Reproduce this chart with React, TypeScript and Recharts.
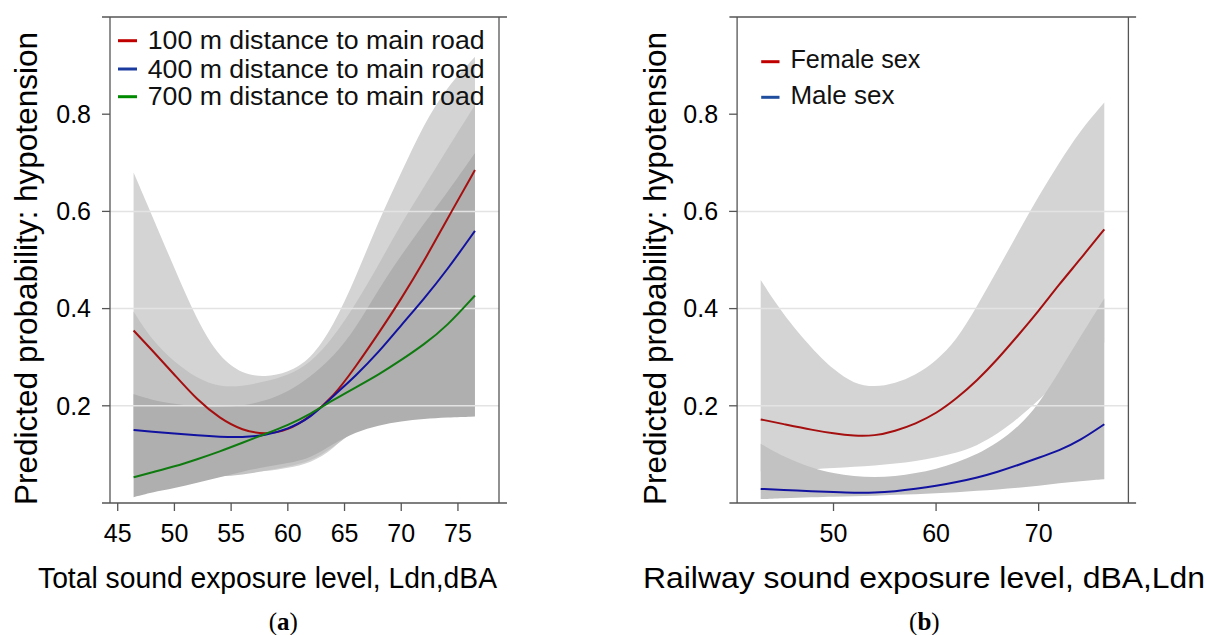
import React from 'react';
import { ComposedChart, Area, Line, XAxis, YAxis, ReferenceLine, Legend, Label } from 'recharts';

const SANS = '"Liberation Sans", Arial, Helvetica, sans-serif';
const SERIF = '"Liberation Serif", "Times New Roman", serif';

// ---------- Panel (a): total sound exposure ----------
const totalLdn = [46.4, 48, 50, 52, 54, 56, 58, 60, 62, 64, 66, 68, 70, 72, 74, 76.5];
const fit100m = [0.355, 0.315, 0.264, 0.212, 0.174, 0.149, 0.141, 0.149, 0.178, 0.218, 0.281, 0.349, 0.42, 0.497, 0.582, 0.685];
const lower100m = [0.15, 0.14, 0.12, 0.1, 0.08, 0.066, 0.064, 0.072, 0.082, 0.11, 0.16, 0.21, 0.27, 0.32, 0.38, 0.44];
const upper100m = [0.68, 0.593, 0.483, 0.375, 0.298, 0.265, 0.259, 0.268, 0.295, 0.363, 0.465, 0.58, 0.68, 0.78, 0.855, 0.918];
const fit400m = [0.15, 0.147, 0.143, 0.139, 0.136, 0.135, 0.139, 0.152, 0.175, 0.22, 0.262, 0.31, 0.366, 0.42, 0.478, 0.56];
const lower400m = [0.06, 0.058, 0.056, 0.055, 0.054, 0.058, 0.066, 0.075, 0.085, 0.115, 0.15, 0.19, 0.23, 0.27, 0.31, 0.36];
const upper400m = [0.394, 0.335, 0.29, 0.256, 0.239, 0.24, 0.25, 0.262, 0.288, 0.34, 0.41, 0.49, 0.575, 0.65, 0.726, 0.819];
const fit700m = [0.053, 0.063, 0.075, 0.09, 0.106, 0.124, 0.142, 0.16, 0.183, 0.212, 0.238, 0.264, 0.294, 0.326, 0.363, 0.427];
const lower700m = [0.012, 0.022, 0.03, 0.042, 0.053, 0.065, 0.074, 0.082, 0.092, 0.122, 0.146, 0.16, 0.168, 0.173, 0.176, 0.178];
const upper700m = [0.224, 0.212, 0.204, 0.198, 0.197, 0.2, 0.21, 0.228, 0.26, 0.3, 0.36, 0.44, 0.51, 0.575, 0.637, 0.72];
const ticksXA = [45, 50, 55, 60, 65, 70, 75];
const legendA = ['100 m distance to main road', '400 m distance to main road', '700 m distance to main road'];

// ---------- Panel (b): railway sound exposure ----------
const railLdn = [42.9, 45, 48, 50, 52, 54, 56, 58, 60, 62, 64, 66, 68, 70, 72, 74, 76.4];
const fitFemale = [0.172, 0.163, 0.15, 0.143, 0.138, 0.138, 0.148, 0.163, 0.184, 0.215, 0.252, 0.296, 0.345, 0.395, 0.45, 0.5, 0.563];
const lowerFemale = [0.065, 0.066, 0.07, 0.072, 0.075, 0.077, 0.081, 0.086, 0.094, 0.103, 0.118, 0.142, 0.174, 0.212, 0.25, 0.29, 0.33];
const upperFemale = [0.459, 0.39, 0.315, 0.274, 0.245, 0.238, 0.246, 0.263, 0.292, 0.335, 0.405, 0.48, 0.557, 0.632, 0.7, 0.765, 0.824];
const fitMale = [0.029, 0.027, 0.024, 0.0225, 0.021, 0.021, 0.024, 0.029, 0.035, 0.043, 0.052, 0.064, 0.078, 0.093, 0.108, 0.128, 0.162];
const lowerMale = [0.008, 0.01, 0.012, 0.013, 0.014, 0.015, 0.017, 0.018, 0.02, 0.022, 0.025, 0.028, 0.031, 0.035, 0.041, 0.045, 0.049];
const upperMale = [0.122, 0.096, 0.071, 0.061, 0.055, 0.053, 0.055, 0.061, 0.07, 0.083, 0.1, 0.124, 0.156, 0.203, 0.27, 0.34, 0.421];
const ticksXB = [50, 60, 70];
const legendB = ['Female sex', 'Male sex'];

const ticksY = [0.2, 0.4, 0.6, 0.8];
const gridY = [0.2, 0.4, 0.6];

const rowsA = totalLdn.map((x, i) => ({
  x,
  fit100: fit100m[i],
  band100: [lower100m[i], upper100m[i]],
  fit400: fit400m[i],
  band400: [lower400m[i], upper400m[i]],
  fit700: fit700m[i],
  band700: [lower700m[i], upper700m[i]],
}));

const rowsB = railLdn.map((x, i) => ({
  x,
  female: fitFemale[i],
  bandF: [lowerFemale[i], upperFemale[i]],
  male: fitMale[i],
  bandM: [lowerMale[i], upperMale[i]],
}));

const FRAME = '#555555';
const GRID = '#e3e3e3';
const tickStyle = { fontSize: 25, fill: '#000', fontFamily: SANS };
const CURVE = 'basis' as const;

const LegendA = () => {
  const cols = ['#c00000', '#1b3aa0', '#008a00'];
  const ys = [40.7, 69, 96.7];
  return (
    <svg width={600} height={130} style={{ display: 'block', overflow: 'visible' }}>
      {legendA.map((t, i) => (
        <g key={t}>
          <line x1={118} x2={137} y1={ys[i]} y2={ys[i]} stroke={cols[i]} strokeWidth={3} />
          <text x={147.7} y={ys[i] + 8.6} fontSize={26} fontFamily={SANS} fill="#111" textLength={337} lengthAdjust="spacingAndGlyphs">{t}</text>
        </g>
      ))}
    </svg>
  );
};

const LegendB = () => {
  const cols = ['#c00000', '#1f4e9f'];
  const ys = [61.7, 97.3];
  const lens = [130, 104];
  return (
    <svg width={606} height={130} style={{ display: 'block', overflow: 'visible' }}>
      {legendB.map((t, i) => (
        <g key={t}>
          <line x1={161.2} x2={179.5} y1={ys[i]} y2={ys[i]} stroke={cols[i]} strokeWidth={3} />
          <text x={190.4} y={ys[i] + 6.6} fontSize={26} fontFamily={SANS} fill="#111" textLength={lens[i]} lengthAdjust="spacingAndGlyphs">{t}</text>
        </g>
      ))}
    </svg>
  );
};

const Titles = ({ yx, xcx, xlen, xtitle, tag, tagx }: { yx: number; xcx: number; xlen: number; xtitle: string; tag: string; tagx: number }) => (
  <g>
    <text transform={`translate(${yx},268.5) rotate(-90)`} textAnchor="middle" fontSize={31} fontFamily={SANS} fill="#000" textLength={473} lengthAdjust="spacingAndGlyphs">
      Predicted probability:  hypotension
    </text>
    <text x={xcx} y={588.3} textAnchor="middle" fontSize={30} fontFamily={SANS} fill="#000" textLength={xlen} lengthAdjust="spacingAndGlyphs">
      {xtitle}
    </text>
    <text x={tagx} y={630} textAnchor="middle" fontSize={25} fontFamily={SERIF} fill="#000">
      (<tspan fontWeight="bold">{tag}</tspan>)
    </text>
  </g>
);

const lineProps = { stroke: FRAME, strokeWidth: 1.3 };

function PanelA() {
  const dom: [number, number] = [44.32, 78.62];
  return (
    <ComposedChart width={600} height={635} data={rowsA} margin={{ top: 0, left: 50, right: 71, bottom: 92 }}>
      <XAxis dataKey="x" type="number" domain={dom} ticks={ticksXA} allowDataOverflow height={40} axisLine={false}
        tickLine={lineProps} tickSize={8} tickMargin={13} tick={tickStyle} interval={0}>
        <Label content={() => <Titles yx={36.7} xcx={267.5} xlen={459} xtitle="Total sound exposure level, Ldn,dBA" tag="a" tagx={283.3} />} />
      </XAxis>
      <XAxis xAxisId="top" orientation="top" dataKey="x" type="number" domain={dom} ticks={ticksXA} allowDataOverflow height={17}
        axisLine={false} tickLine={lineProps} tickSize={8} tick={false} interval={0} />
      <YAxis type="number" domain={[0, 1]} ticks={ticksY} width={60} allowDataOverflow axisLine={lineProps}
        tickLine={lineProps} tickSize={8} tickMargin={11} tick={tickStyle} tickFormatter={(v: number) => v.toFixed(1)} interval={0} />
      <YAxis yAxisId="right" orientation="right" type="number" domain={[0, 1]} ticks={ticksY} width={30} axisLine={lineProps}
        tickLine={lineProps} tickSize={8} tick={false} interval={0} />
      <Area type={CURVE} dataKey="band100" stroke="none" fill="#d4d4d4" fillOpacity={1} isAnimationActive={false} activeDot={false} />
      <Area type={CURVE} dataKey="band400" stroke="none" fill="#c3c3c3" fillOpacity={1} isAnimationActive={false} activeDot={false} />
      <Area type={CURVE} dataKey="band700" stroke="none" fill="#afafaf" fillOpacity={1} isAnimationActive={false} activeDot={false} />
      {gridY.map((g) => (
        <ReferenceLine key={g} y={g} stroke={GRID} strokeWidth={1.5} />
      ))}
      <ReferenceLine segment={[{ x: 43.615, y: 1 }, { x: 79.325, y: 1 }]} ifOverflow="visible" stroke={FRAME} strokeWidth={1.3} />
      <ReferenceLine segment={[{ x: 43.615, y: 0 }, { x: 79.325, y: 0 }]} ifOverflow="visible" stroke={FRAME} strokeWidth={1.3} />
      <Line type={CURVE} dataKey="fit100" stroke="#a50f0f" strokeWidth={2} dot={false} isAnimationActive={false} />
      <Line type={CURVE} dataKey="fit400" stroke="#1212a0" strokeWidth={2} dot={false} isAnimationActive={false} />
      <Line type={CURVE} dataKey="fit700" stroke="#0f7a0f" strokeWidth={2} dot={false} isAnimationActive={false} />
      <Legend verticalAlign="middle" align="center" layout="horizontal" content={() => <LegendA />}
        wrapperStyle={{ position: 'absolute', left: 0, top: 0, width: 600, height: 130 }} />
    </ComposedChart>
  );
}

function PanelB() {
  const dom: [number, number] = [40.6, 78.75];
  return (
    <ComposedChart width={606} height={635} data={rowsB} margin={{ top: 0, left: 77.1, right: 47.6, bottom: 92 }}>
      <XAxis dataKey="x" type="number" domain={dom} ticks={ticksXB} allowDataOverflow height={40} axisLine={false}
        tickLine={lineProps} tickSize={8} tickMargin={13} tick={tickStyle} interval={0}>
        <Label content={() => <Titles yx={66} xcx={324} xlen={562} xtitle="Railway sound exposure level, dBA,Ldn" tag="b" tagx={324.4} />} />
      </XAxis>
      <XAxis xAxisId="top" orientation="top" dataKey="x" type="number" domain={dom} ticks={ticksXB} allowDataOverflow height={17}
        axisLine={false} tickLine={lineProps} tickSize={8} tick={false} interval={0} />
      <YAxis type="number" domain={[0, 1]} ticks={ticksY} width={60} allowDataOverflow axisLine={lineProps}
        tickLine={lineProps} tickSize={8} tickMargin={11} tick={tickStyle} tickFormatter={(v: number) => v.toFixed(1)} interval={0} />
      <YAxis yAxisId="right" orientation="right" type="number" domain={[0, 1]} ticks={ticksY} width={30} axisLine={lineProps}
        tickLine={lineProps} tickSize={8} tick={false} interval={0} />
      <Area type={CURVE} dataKey="bandF" stroke="none" fill="#d4d4d4" fillOpacity={1} isAnimationActive={false} activeDot={false} />
      <Area type={CURVE} dataKey="bandM" stroke="none" fill="#c2c2c2" fillOpacity={1} isAnimationActive={false} activeDot={false} />
      {gridY.map((g) => (
        <ReferenceLine key={g} y={g} stroke={GRID} strokeWidth={1.5} />
      ))}
      <ReferenceLine segment={[{ x: 39.85, y: 1 }, { x: 79.5, y: 1 }]} ifOverflow="visible" stroke={FRAME} strokeWidth={1.3} />
      <ReferenceLine segment={[{ x: 39.85, y: 0 }, { x: 79.5, y: 0 }]} ifOverflow="visible" stroke={FRAME} strokeWidth={1.3} />
      <Line type={CURVE} dataKey="female" stroke="#a50f0f" strokeWidth={2} dot={false} isAnimationActive={false} />
      <Line type={CURVE} dataKey="male" stroke="#1212a0" strokeWidth={2} dot={false} isAnimationActive={false} />
      <Legend verticalAlign="middle" align="center" layout="horizontal" content={() => <LegendB />}
        wrapperStyle={{ position: 'absolute', left: 0, top: 0, width: 606, height: 130 }} />
    </ComposedChart>
  );
}

export default function App() {
  return (
    <div style={{ position: 'absolute', left: 0, top: 0, width: 1206, height: 635, background: '#fff', overflow: 'hidden' }}>
      <div style={{ position: 'absolute', left: 0, top: 0 }}>
        <PanelA />
      </div>
      <div style={{ position: 'absolute', left: 600, top: 0 }}>
        <PanelB />
      </div>
    </div>
  );
}
